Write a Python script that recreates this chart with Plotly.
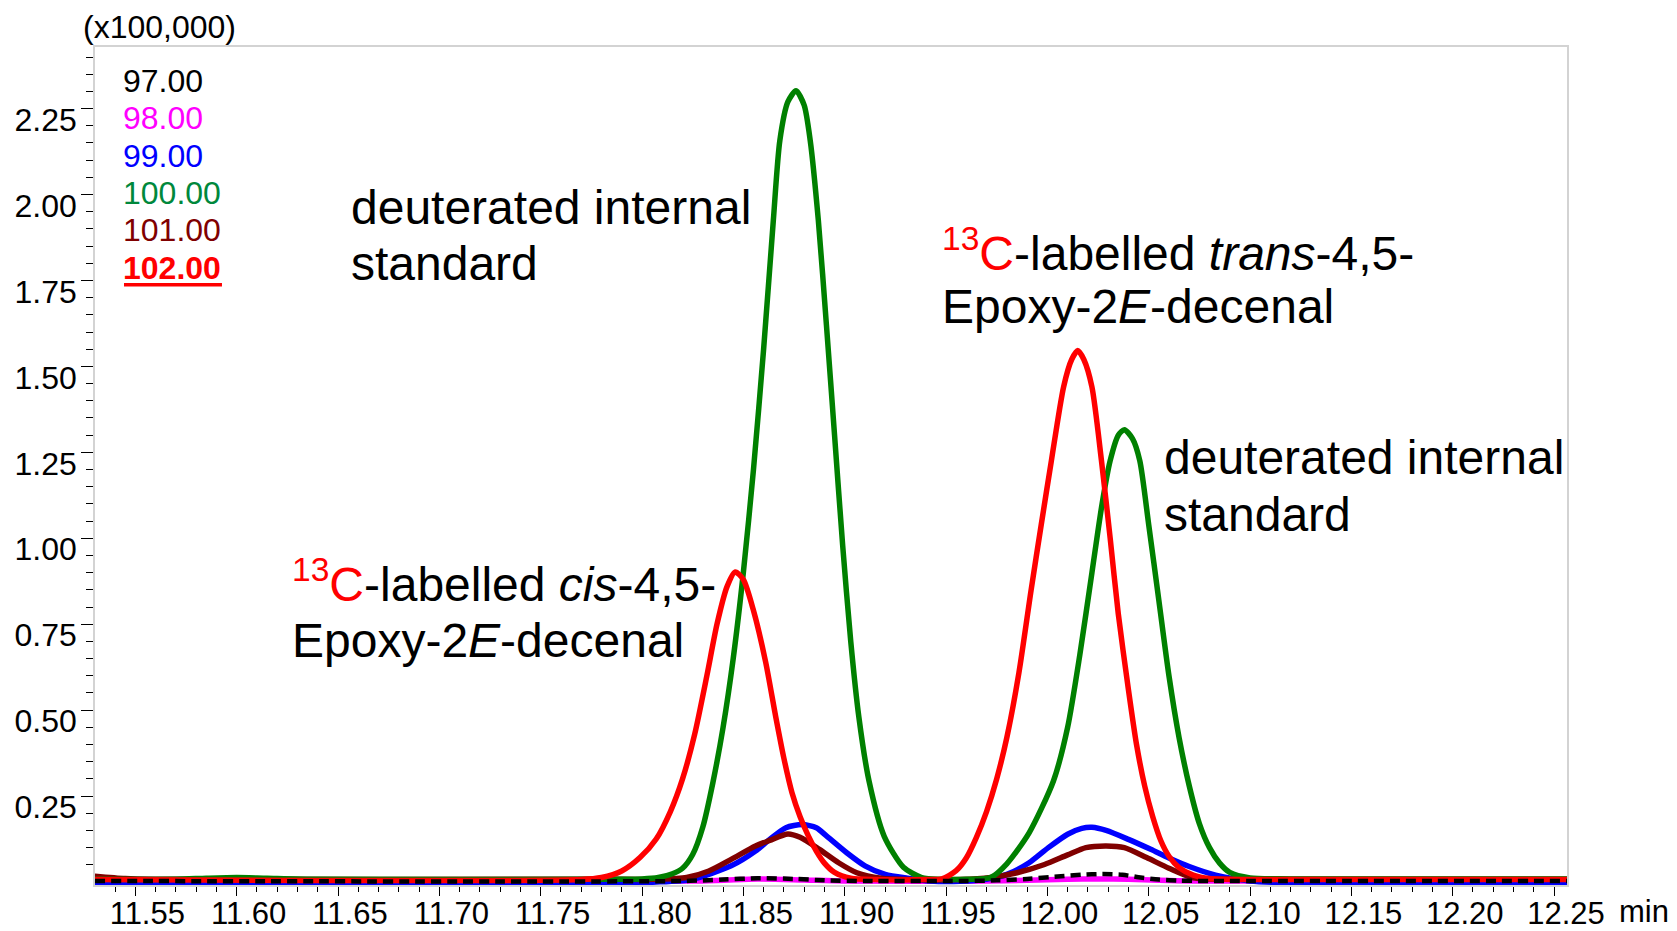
import plotly.graph_objects as go

# ---------------- data (intensity x100,000) ----------------
t_97 = [11.530, 11.820, 11.840, 11.857, 11.875, 11.890, 11.910, 11.960, 11.975, 11.990,
        12.005, 12.017, 12.027, 12.037, 12.045, 12.055, 12.065, 12.080, 12.2564]
v_97 = [0.003, 0.003, 0.007, 0.011, 0.009, 0.005, 0.003, 0.003, 0.005, 0.009,
        0.016, 0.021, 0.023, 0.021, 0.014, 0.007, 0.004, 0.003, 0.003]

t_98 = [11.530, 11.830, 11.857, 11.880, 11.900, 11.970, 11.990, 12.010, 12.025, 12.040,
        12.055, 12.070, 12.2564]
v_98 = [0.003, 0.003, 0.009, 0.006, 0.003, 0.003, 0.005, 0.008, 0.009, 0.008,
        0.005, 0.003, 0.003]

t_99 = [11.530, 11.780, 11.807, 11.825, 11.844, 11.856, 11.863, 11.871, 11.879, 11.886,
        11.891, 11.901, 11.910, 11.920, 11.931, 11.942, 11.957, 11.970, 11.980, 11.991,
        12.0005, 12.010, 12.017, 12.022, 12.029, 12.040, 12.051, 12.060, 12.070, 12.083,
        12.100, 12.120, 12.2564]
v_99 = [-0.002, -0.002, 0.000, 0.008, 0.047, 0.090, 0.124, 0.158, 0.167, 0.158,
        0.134, 0.085, 0.047, 0.022, 0.011, 0.003, 0.002, 0.008, 0.022, 0.056,
        0.100, 0.139, 0.156, 0.159, 0.150, 0.124, 0.095, 0.070, 0.045, 0.020,
        0.003, -0.002, -0.002]

t_100 = [11.530, 11.570, 11.585, 11.600, 11.615, 11.640, 11.780, 11.800, 11.808, 11.815,
         11.820, 11.825, 11.830, 11.835, 11.840, 11.845, 11.850, 11.855, 11.860, 11.8648,
         11.868, 11.872, 11.876, 11.880, 11.883, 11.887, 11.891, 11.895, 11.899, 11.903,
         11.907, 11.912, 11.9195, 11.929, 11.938, 11.948, 11.960, 11.972, 11.980, 11.991,
         12.003, 12.010, 12.016, 12.022, 12.027, 12.031, 12.035, 12.038, 12.042, 12.0456,
         12.050, 12.055, 12.060, 12.065, 12.070, 12.075, 12.080, 12.085, 12.090, 12.100,
         12.120, 12.2564]
v_100 = [0.008, 0.008, 0.011, 0.013, 0.011, 0.008, 0.008, 0.009, 0.013, 0.024,
         0.040, 0.080, 0.160, 0.290, 0.450, 0.650, 0.900, 1.200, 1.550, 1.925,
         2.157, 2.270, 2.302, 2.260, 2.157, 1.925, 1.620, 1.300, 0.980, 0.700,
         0.480, 0.294, 0.133, 0.043, 0.013, 0.008, 0.008, 0.013, 0.053, 0.143,
         0.294, 0.450, 0.660, 0.900, 1.100, 1.226, 1.300, 1.316, 1.290, 1.226,
         1.040, 0.820, 0.600, 0.420, 0.280, 0.170, 0.100, 0.055, 0.028, 0.012,
         0.009, 0.009]

t_101 = [11.530, 11.545, 11.560, 11.780, 11.807, 11.822, 11.833, 11.844, 11.856, 11.863,
         11.872, 11.878, 11.8875, 11.897, 11.906, 11.918, 11.931, 11.957, 11.972, 11.985,
         11.9986, 12.010, 12.019, 12.029, 12.038, 12.049, 12.060, 12.072, 12.090, 12.2564]
v_101 = [0.017, 0.010, 0.008, 0.008, 0.008, 0.013, 0.032, 0.066, 0.105, 0.121,
         0.140, 0.130, 0.095, 0.056, 0.027, 0.011, 0.007, 0.007, 0.013, 0.027,
         0.051, 0.079, 0.100, 0.105, 0.100, 0.071, 0.040, 0.012, 0.008, 0.008]

t_102 = [11.530, 11.770, 11.780, 11.790, 11.799, 11.807, 11.814, 11.820, 11.826, 11.832,
         11.837, 11.842, 11.846, 11.850, 11.855, 11.861, 11.866, 11.870, 11.874, 11.878,
         11.882, 11.886, 11.890, 11.895, 11.903, 11.915, 11.940, 11.948, 11.955, 11.960,
         11.965, 11.970, 11.975, 11.980, 11.986, 11.992, 11.997, 12.002, 12.008, 12.012,
         12.015, 12.018, 12.022, 12.0267, 12.031, 12.035, 12.040, 12.044, 12.048, 12.052,
         12.056, 12.060, 12.065, 12.072, 12.080, 12.100, 12.2564]
v_102 = [0.007, 0.007, 0.013, 0.032, 0.071, 0.125, 0.205, 0.300, 0.430, 0.600,
         0.750, 0.860, 0.902, 0.880, 0.790, 0.640, 0.480, 0.360, 0.260, 0.190,
         0.135, 0.090, 0.055, 0.028, 0.011, 0.007, 0.007, 0.009, 0.033, 0.070,
         0.130, 0.205, 0.300, 0.420, 0.610, 0.850, 1.040, 1.226, 1.440, 1.520,
         1.546, 1.520, 1.440, 1.226, 1.000, 0.780, 0.560, 0.400, 0.280, 0.190,
         0.120, 0.075, 0.042, 0.020, 0.010, 0.007, 0.007]

x_major = [11.55, 11.60, 11.65, 11.70, 11.75, 11.80, 11.85, 11.90, 11.95, 12.00,
           12.05, 12.10, 12.15, 12.20, 12.25]
x_labels = ["11.55", "11.60", "11.65", "11.70", "11.75", "11.80", "11.85", "11.90",
            "11.95", "12.00", "12.05", "12.10", "12.15", "12.20", "12.25"]
y_major = [0.25, 0.50, 0.75, 1.00, 1.25, 1.50, 1.75, 2.00, 2.25]
y_labels = ["0.25", "0.50", "0.75", "1.00", "1.25", "1.50", "1.75", "2.00", "2.25"]
x_minor = [round(11.54 + 0.01 * i, 2) for i in range(72)]
x_minor = [v for v in x_minor if round(v * 100) % 5 != 0]
y_minor = [round(0.05 * i, 2) for i in range(1, 49)]
y_minor = [v for v in y_minor if round(v * 100) % 25 != 0]

mass_labels = ["97.00", "98.00", "99.00", "100.00", "101.00", "102.00"]
label_colors = ["#000000", "#FF00FF", "#0000FF", "#00883C", "#800000", "#FF0000"]

# ---------------- figure ----------------
W, H = 1677, 931
L, R, T, B = 95, 1567.3, 46.7, 885
FONT = "Liberation Sans, Arial, sans-serif"

def px(x):
    return (x - L) / (R - L)

def py(y):
    return (B - y) / (B - T)

fig = go.Figure()
LW = 5.5
fig.add_trace(go.Scatter(x=t_98, y=v_98, mode="lines", line=dict(color="#FF00FF", width=LW, shape="spline", smoothing=0.7)))
fig.add_trace(go.Scatter(x=t_99, y=v_99, mode="lines", line=dict(color="#0000FF", width=LW, shape="spline", smoothing=0.7)))
fig.add_trace(go.Scatter(x=t_101, y=v_101, mode="lines", line=dict(color="#800000", width=LW, shape="spline", smoothing=0.7)))
fig.add_trace(go.Scatter(x=t_100, y=v_100, mode="lines", line=dict(color="#008000", width=LW, shape="spline", smoothing=0.7)))
fig.add_trace(go.Scatter(x=t_102, y=v_102, mode="lines", line=dict(color="#FF0000", width=LW, shape="spline", smoothing=0.7)))
fig.add_trace(go.Scatter(x=t_97, y=v_97, mode="lines", line=dict(color="#000000", width=4.5, dash="10px,6px", shape="spline", smoothing=0.7)))

annotations = []

def txt(text, x_left, baseline, size, color="black"):
    annotations.append(dict(
        text=text, x=px(x_left), y=py(baseline - 0.3465 * size), xref="paper", yref="paper",
        xanchor="left", yanchor="middle", showarrow=False, borderpad=0,
        font=dict(family=FONT, size=size, color=color)))

# legend-like mass labels
legend_baselines = [92, 129.3, 166.7, 203.7, 241, 279.3]
for lab, col, bl in zip(mass_labels, label_colors, legend_baselines):
    t = "<b>%s</b>" % lab if lab == "102.00" else lab
    txt(t, 122, bl, 32, col)

txt("(x100,000)", 82, 37.3, 32)

RED13C = "<span style='color:#FF0000'><sup>13</sup>C</span>"
txt("deuterated internal", 350, 224, 48)
txt("standard", 350, 280, 48)
txt(RED13C + "-labelled <i>cis</i>-4,5-", 291, 598, 48)
txt("Epoxy-2<i>E</i>-decenal", 291, 657, 48)
txt(RED13C + "-labelled <i>trans</i>-4,5-", 941, 266, 48)
txt("Epoxy-2<i>E</i>-decenal", 941, 323, 48)
txt("deuterated internal", 1163, 474, 48)
txt("standard", 1163, 531, 48)
txt("min", 1618, 922, 31)

shapes = [dict(type="line", xref="paper", yref="paper", x0=px(124), x1=px(222),
               y0=py(284.5), y1=py(284.5), line=dict(color="#FF0000", width=3.5))]

axis_common = dict(showgrid=False, zeroline=False, showline=True, linecolor="#d3d3d3",
                   linewidth=1.5, mirror=True, ticks="outside", tickcolor="#000000",
                   tickwidth=1.3, automargin=False)

fig.update_layout(
    width=W, height=H,
    margin=dict(l=L, r=W - R, t=T, b=H - B, pad=0, autoexpand=False),
    paper_bgcolor="white", plot_bgcolor="white",
    showlegend=False,
    annotations=annotations,
    shapes=shapes,
    xaxis=dict(range=[11.5301, 12.2564], tickmode="array", tickvals=x_major, ticktext=x_labels,
               ticklen=9, ticklabelshift=12, ticklabelstandoff=-9,
               tickfont=dict(family=FONT, size=31, color="#000000"),
               minor=dict(tickmode="array", tickvals=x_minor, ticks="outside", ticklen=5,
                          tickwidth=1.2, tickcolor="#000000"),
               **axis_common),
    yaxis=dict(range=[-0.0087, 2.4292], tickmode="array", tickvals=y_major, ticktext=y_labels,
               ticklen=12, ticklabelshift=11, ticklabelstandoff=-2,
               tickfont=dict(family=FONT, size=32, color="#000000"),
               minor=dict(tickmode="array", tickvals=y_minor, ticks="outside", ticklen=7,
                          tickwidth=1.2, tickcolor="#000000"),
               **axis_common),
)

fig.write_html("out.html")
